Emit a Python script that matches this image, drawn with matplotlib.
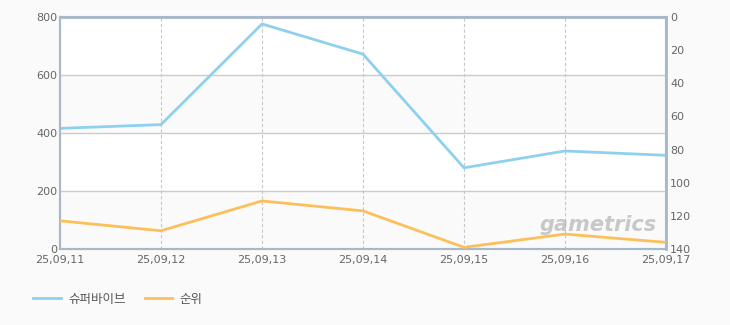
import matplotlib
matplotlib.use('Agg')
import matplotlib.pyplot as plt

plt.rcParams['font.family'] = ['Noto Sans CJK KR', 'DejaVu Sans']

dates = ['25,09,11', '25,09,12', '25,09,13', '25,09,14', '25,09,15', '25,09,16', '25,09,17']
players = [416, 429, 776, 672, 280, 338, 323]
ranks = [123, 129, 111, 117, 139, 131, 136]
left_ticks = [0, 200, 400, 600, 800]
right_ticks = [0, 20, 40, 60, 80, 100, 120, 140]

blue = '#8fd0ef'
orange = '#fdbf5a'
spine = '#a7b8cb'
txt = '#666666'

fig = plt.figure(figsize=(7.3, 3.25), dpi=100)
fig.patch.set_facecolor('#fafafa')
ax = fig.add_axes([60 / 730, 1 - 249 / 325, 606 / 730, 232 / 325])
ax.set_facecolor('white')

# alternating bands
for lo in (0, 400):
    ax.axhspan(lo, lo + 200, color='#fafafa', zorder=0)

x = list(range(len(dates)))
ax.set_xlim(0, len(dates) - 1)
ax.set_ylim(0, 800)
ax.set_yticks(left_ticks)
ax.set_xticks(x)
ax.set_xticklabels(dates)

for v in left_ticks[1:-1]:
    ax.axhline(v, color='#cccccc', lw=1, zorder=1)
for xi in x[1:-1]:
    ax.axvline(xi, color='#c8c8c8', lw=0.8, ls=(0, (3, 2)), zorder=1)

l1, = ax.plot(x, players, color=blue, lw=2, zorder=3)

ax2 = ax.twinx()
ax2.set_ylim(140, 0)
ax2.set_yticks(right_ticks)
l2, = ax2.plot(x, ranks, color=orange, lw=2, zorder=3)

for a in (ax, ax2):
    for s in a.spines.values():
        s.set_color(spine)
        s.set_linewidth(1.5)
    a.tick_params(length=0, colors=txt, labelsize=8)
ax.spines['top'].set_linewidth(2)
ax2.spines['right'].set_linewidth(2)
ax.tick_params(axis='y', pad=2)
ax2.tick_params(axis='y', pad=3)
ax.tick_params(axis='x', pad=4)
for lab in ax.get_xticklabels():
    lab.set_fontfamily('DejaVu Sans')
for lab in ax.get_yticklabels() + ax2.get_yticklabels():
    lab.set_fontfamily('DejaVu Sans')

ax.text(0.985, 0.06, 'gametrics', transform=ax.transAxes, ha='right', va='bottom',
        fontsize=15, fontweight='bold', fontstyle='italic', color='#b8b8b8',
        alpha=0.75, family='DejaVu Sans', zorder=2)

fig.legend([l1, l2], ['슈퍼바이브', '순위'], loc='lower left',
           bbox_to_anchor=(22 / 730, 8 / 325), ncol=2, frameon=False,
           fontsize=9, handlelength=2.2, columnspacing=1.5, handletextpad=0.6,
           labelcolor='#555555')

plt.savefig('out.png', dpi=100, facecolor=fig.get_facecolor())
